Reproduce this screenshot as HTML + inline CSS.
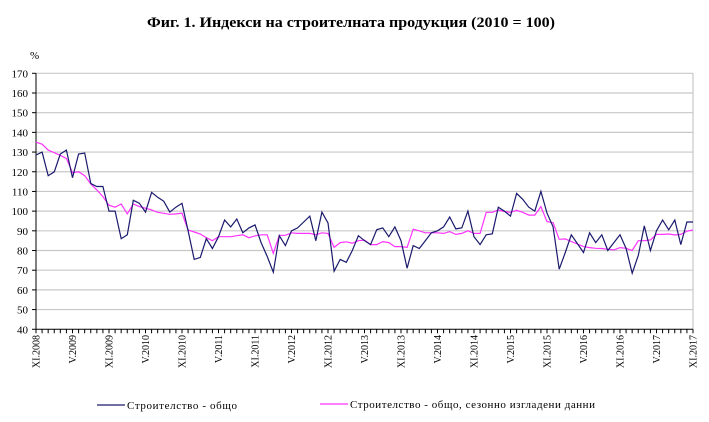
<!DOCTYPE html>
<html><head><meta charset="utf-8"><style>
body{margin:0;background:#fff}
svg{display:block;font-family:"Liberation Serif",serif}
</style></head><body>
<svg id="c" width="709" height="422" viewBox="0 0 709 422" xmlns="http://www.w3.org/2000/svg">
<rect width="709" height="422" fill="#fff"/>
<text x="147" y="27" font-size="15" font-weight="bold" fill="#000" textLength="408" lengthAdjust="spacingAndGlyphs">Фиг. 1. Индекси на строителната продукция (2010 = 100)</text>
<text x="30" y="59" font-size="11" fill="#000">%</text>
<g id="grid"></g>
<g id="ylab" font-size="11" fill="#000" text-anchor="end"></g>
<g id="xlab" font-size="10" fill="#000"></g>
<polyline id="pink" fill="none" stroke="#ff33ff" stroke-width="1.2"/>
<polyline id="blue" fill="none" stroke="#1a1a6e" stroke-width="1.2"/>
<line x1="97" y1="405" x2="125" y2="405" stroke="#1a1a6e" stroke-width="1.2"/>
<text x="127" y="409" font-size="11" textLength="110">Строителство - общо</text>
<line x1="320" y1="404" x2="348" y2="404" stroke="#ff33ff" stroke-width="1.2"/>
<text x="350" y="408" font-size="11" textLength="245">Строителство - общо, сезонно изгладени данни</text>
</svg>
<script>
var blue=[128.5,130,118,120,129,131,117,129,129.5,114,112.5,112.5,100,100,86,88,105.5,104,99.5,109.5,107,105,99.5,102,104,90,75.5,76.5,86,81,87,95.5,92,96,89,91.5,93,84,77,69,87.5,82.5,90,91.5,94.5,97.5,85,99.5,94,69.5,75.5,74,80,87.5,85,83,90.5,91.5,87,92,85,71,82.5,81,85,89,90,92,97,91,91.5,100,87,83,88,88.5,102,100,97.5,109,106,102,100,110,99,92,70.5,79,88,83.5,79,89,84,88,80,84,88,81,68.5,77.5,92.5,80,90,95.5,90.5,95.5,83,94.5,94.5];
var pink=[135,134,131,129.7,128.3,126.8,119.5,120,118,113.8,110.8,107.4,103,102,103.6,98.6,103.6,102.3,101.5,100.6,99.4,98.9,98.4,98.6,99,90.4,89.4,88.4,86.5,85,87,87,87,87.5,88,86.5,87.4,88,88,78.6,87.7,87.7,89,88.7,88.7,88.7,88,89,88.7,81.6,84,84.4,83.7,85,85.3,83,83,84.5,84,82,82,81.6,90.8,90,89,89,89,88.7,89.6,88.2,88.7,90,88.7,88.7,99.4,99.4,100.6,99.8,99.4,100.4,99.4,98,98,102.3,94.7,94.2,85.7,85.9,84.5,83.3,82,81.5,81.1,81,80.6,80.3,81.5,81.1,80,85,85,85.4,88.2,88.2,88.4,87.9,88.2,89.8,90.4];
var X0=36,DX=(693-36)/108,Y=function(v){return 73.3+(170-v)*1.969;};
var ns="http://www.w3.org/2000/svg",g=document.getElementById("grid"),yl=document.getElementById("ylab"),xl=document.getElementById("xlab");
function el(t,a,p){var e=document.createElementNS(ns,t);for(var k in a)e.setAttribute(k,a[k]);p.appendChild(e);return e;}
for(var v=40;v<=170;v+=10){var y=Y(v);
 if(v>40)el("line",{x1:36,x2:693,y1:y,y2:y,stroke:"#c8c8c8","stroke-width":1.2},g);
 el("line",{x1:32,x2:36,y1:y,y2:y,stroke:"#000","stroke-width":1},g);
 var t=el("text",{x:28,y:y+4},yl);t.textContent=v;}
el("line",{x1:693,x2:693,y1:Y(170),y2:Y(40),stroke:"#c8c8c8","stroke-width":1.2},g);
el("line",{x1:36,x2:36,y1:Y(170),y2:Y(40),stroke:"#000","stroke-width":1},g);
el("line",{x1:36,x2:693,y1:Y(40),y2:Y(40),stroke:"#000","stroke-width":1},g);
for(var i=0;i<=108;i++){var x=X0+DX*i;el("line",{x1:x,x2:x,y1:Y(40),y2:Y(40)+4,stroke:"#000","stroke-width":1},g);}
for(var k=0;k<=18;k++){var x=X0+DX*6*k+3.5,yr=2008+Math.floor((k+1)/2);var s=(k%2==0?"XI.":"V.")+yr;
 var t=el("text",{x:0,y:0,transform:"translate("+x+",335) rotate(-90)","text-anchor":"end"},xl);t.textContent=s;}
function pts(a){return a.map(function(v,i){return (X0+DX*i).toFixed(1)+","+Y(v).toFixed(1);}).join(" ");}
document.getElementById("blue").setAttribute("points",pts(blue));
document.getElementById("pink").setAttribute("points",pts(pink));
</script>
</body></html>
